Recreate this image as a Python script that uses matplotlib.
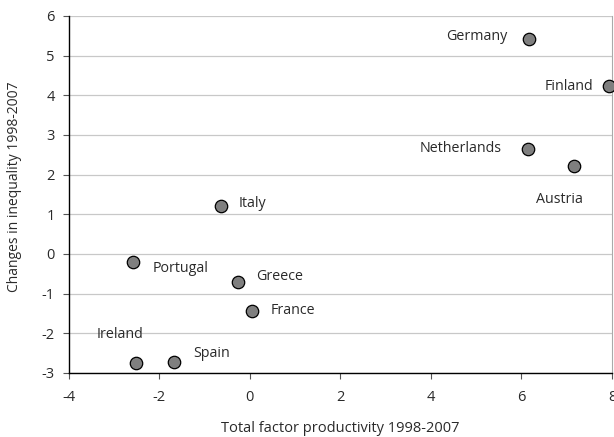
import matplotlib.pyplot as plt

plt.rcParams['font.family'] = ['Open Sans', 'DejaVu Sans']
plt.rcParams['axes.unicode_minus'] = False

countries = ['Germany', 'Finland', 'Netherlands', 'Austria', 'Italy',
             'Portugal', 'Greece', 'France', 'Ireland', 'Spain']
tfp = [6.16, 7.93, 6.14, 7.16, -0.64, -2.58, -0.26, 0.05, -2.51, -1.67]
ineq = [5.42, 4.23, 2.65, 2.22, 1.21, -0.20, -0.70, -1.43, -2.74, -2.72]

# label offsets in pixels and alignment
offsets = {
    'Germany': (-21, 2, 'right'),
    'Finland': (-16, 0, 'right'),
    'Netherlands': (-26, 0, 'right'),
    'Austria': (-14, -34, 'center'),
    'Italy': (18, 2, 'left'),
    'Portugal': (20, -7, 'left'),
    'Greece': (18, 5, 'left'),
    'France': (19, 0, 'left'),
    'Ireland': (-16, 28, 'center'),
    'Spain': (19, 8, 'left'),
}

fig = plt.figure(figsize=(6.14, 4.37), dpi=100)
ax = fig.add_axes([0.1117, 0.1465, 0.885, 0.817])

ax.scatter(tfp, ineq, s=80, color='#7f7f7f', edgecolor='black',
           linewidth=0.9, zorder=3, clip_on=False)

for name, x, y in zip(countries, tfp, ineq):
    dx, dy, ha = offsets[name]
    ax.annotate(name, (x, y), xytext=(dx, dy), textcoords='offset pixels',
                ha=ha, va='center', fontsize=10.3, color='#2a2a2a')

ax.set_xlim(-4, 8)
ax.set_ylim(-3, 6)
ax.set_xticks(range(-4, 9, 2))
ax.set_yticks(range(-3, 7))
ax.yaxis.grid(True, color='#c8c8c8', linewidth=0.9)
ax.set_axisbelow(True)

ax.spines['top'].set_visible(False)
ax.spines['right'].set_color('#aaaaaa')
ax.spines['left'].set_linewidth(1.0)
ax.spines['bottom'].set_linewidth(1.0)
ax.tick_params(length=4, width=0.8, labelsize=10.5, colors='#2a2a2a',
               color='#555555')
ax.tick_params(axis='x', pad=8)
ax.tick_params(axis='y', pad=6)

ax.set_xlabel('Total factor productivity 1998-2007', fontsize=10.5,
              color='#2a2a2a', labelpad=12)
ax.set_ylabel('Changes in inequality 1998-2007', fontsize=10,
              color='#2a2a2a')
ax.yaxis.set_label_coords(-0.085, 0.523)

fig.savefig('out.png', dpi=100)
